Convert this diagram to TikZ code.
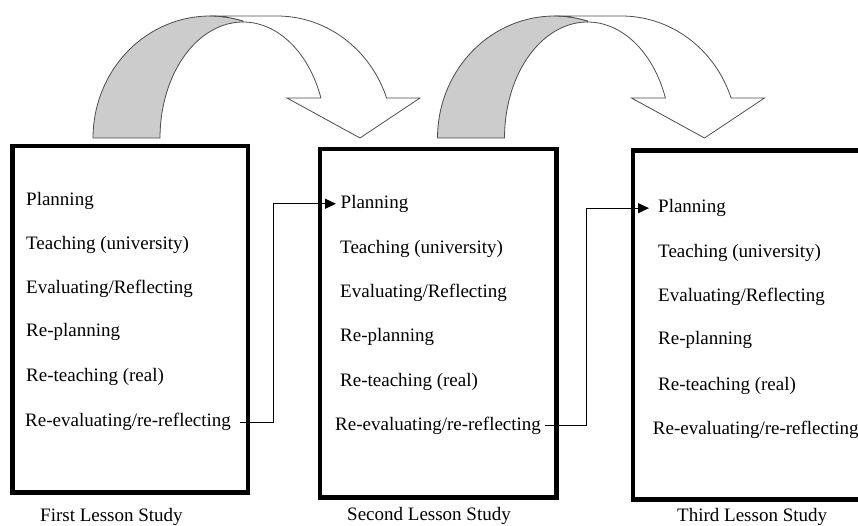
\documentclass[tikz,border=0pt]{standalone}
\usepackage{fontspec}
\setmainfont{Liberation Serif}
\usetikzlibrary{arrows.meta}
\begin{document}
\begin{tikzpicture}[x=1pt,y=-1pt,
  lsbox/.style={draw=black, line width=4.5pt, inner sep=0pt},
  item/.style={anchor=base west, inner sep=0pt, font=\fontsize{19}{22}\selectfont},
  caption/.style={anchor=base west, inner sep=0pt, font=\fontsize{19}{22}\selectfont},
  conn/.style={draw=black, line width=1pt, -{Triangle[length=11pt,width=10pt]}},
  backband/.style={fill=gray!40, draw=black!70, line width=0.8pt},
  frontband/.style={fill=white, draw=black!70, line width=0.8pt, line join=miter}
]
\useasboundingbox (0,0) rectangle (858,525);
\clip (0,0) rectangle (858,525);

% curved arrows
\foreach \dx in {0,344.5}{
\begin{scope}[xshift=\dx]
  \filldraw[backband]
    plot[variable=\t, domain=-180:-73.6, samples=40] ({210+117*cos(\t)},{138+122*sin(\t)})
    -- plot[variable=\t, domain=-90:-180, samples=40] ({243+83*cos(\t)},{138+116*sin(\t)})
    -- cycle;
  \filldraw[frontband] (210,16) -- (277,16)
    -- plot[variable=\t, domain=-90:-19.1, samples=40] ({277+116*cos(\t)},{138+122*sin(\t)})
    -- (420,98) -- (360,138) -- (287,98)
    -- plot[variable=\t, domain=-20.2:-90, samples=40] ({243+83*cos(\t)},{138+116*sin(\t)})
    -- plot[variable=\t, domain=-73.6:-90, samples=10] ({210+117*cos(\t)},{138+122*sin(\t)})
    -- cycle;
\end{scope}
}

% boxes
\node[lsbox, minimum width=235.5pt, minimum height=346.5pt] (B1) at (130.25,319.25) {};
\node[lsbox, minimum width=236.5pt, minimum height=348.5pt] (B2) at (438.25,323.25) {};
\node[lsbox, minimum width=237pt, minimum height=349pt] (B3) at (751.5,325) {};

% box 1 texts
\node[item] (a1) at (26,205) {Planning};
\node[item] (a2) at (26,249.3) {Teaching (university)};
\node[item] (a3) at (26,293.3) {Evaluating/Reflecting};
\node[item] (a4) at (26,336.7) {Re-planning};
\node[item] (a5) at (26,381.7) {Re-teaching (real)};
\node[item] (a6) at (25,426.7) {Re-evaluating/re-reflecting};

% box 2 texts
\node[item] (b1) at (340.5,208.3) {Planning};
\node[item] (b2) at (340,253.3) {Teaching (university)};
\node[item] (b3) at (340,297) {Evaluating/Reflecting};
\node[item] (b4) at (340,341) {Re-planning};
\node[item] (b5) at (340,386) {Re-teaching (real)};
\node[item] (b6) at (335,430) {Re-evaluating/re-reflecting};

% box 3 texts
\node[item] (c1) at (658,212.7) {Planning};
\node[item] (c2) at (658,257) {Teaching (university)};
\node[item] (c3) at (658,301.7) {Evaluating/Reflecting};
\node[item] (c4) at (658,344) {Re-planning};
\node[item] (c5) at (658,390) {Re-teaching (real)};
\node[item] (c6) at (652.7,434) {Re-evaluating/re-reflecting};

% captions
\node[caption] (L1) at (40,521) {First Lesson Study};
\node[caption] (L2) at (347,520) {Second Lesson Study};
\node[caption] (L3) at (677,521) {Third Lesson Study};

% connectors
\coordinate (k1) at (273.3,0);
\coordinate (k2) at (586,0);
\draw[conn] ([xshift=8.5]a6.east) -- (a6.east -| k1) |- ([xshift=-4.5]b1.west);
\draw[conn] ([xshift=4]b6.east) -- (b6.east -| k2) |- ([xshift=-9]c1.west);
\end{tikzpicture}
\end{document}
